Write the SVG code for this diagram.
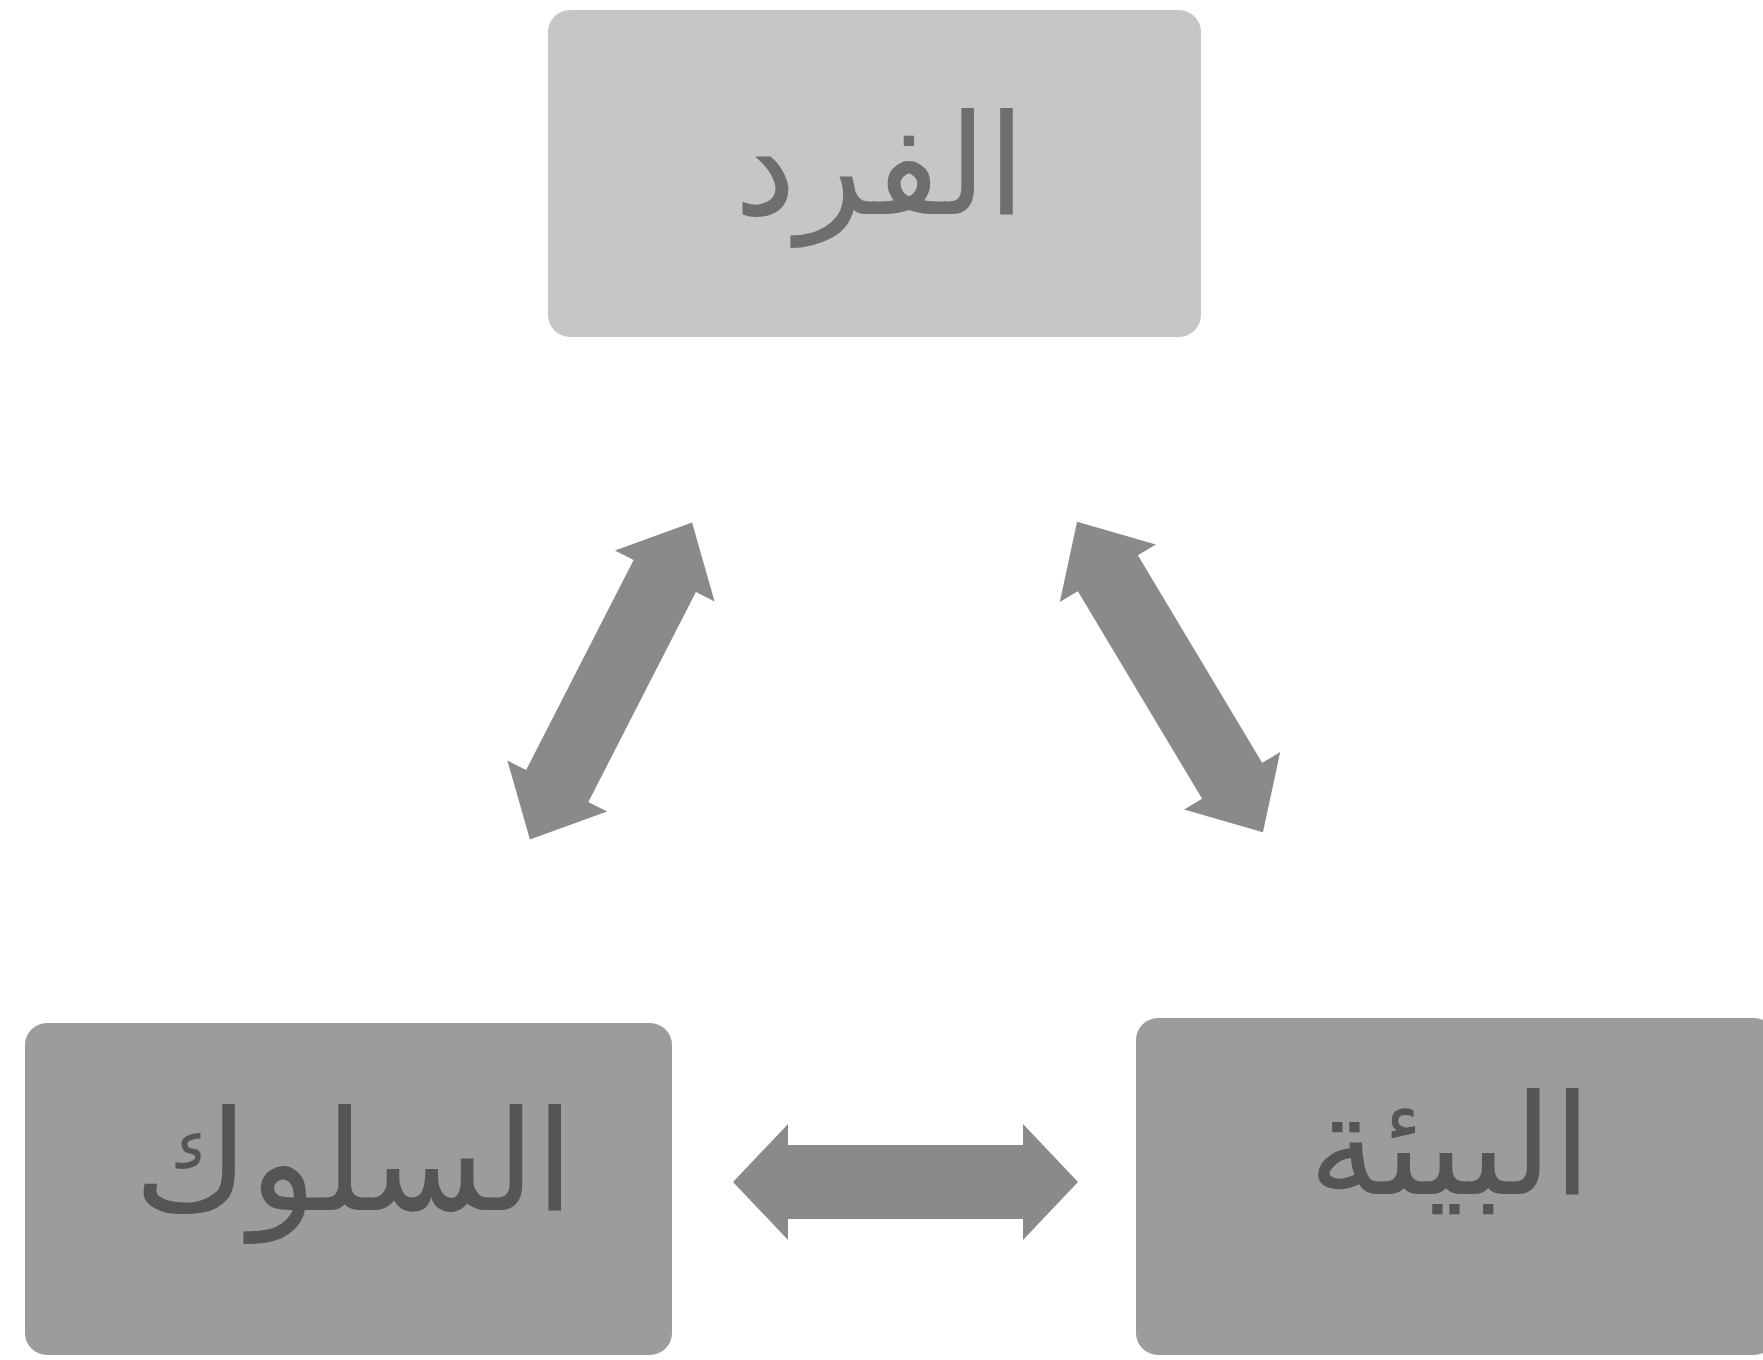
<svg xmlns="http://www.w3.org/2000/svg" width="1763" height="1360" viewBox="0 0 1763 1360">
<style>
.box{stroke:none}
.top{fill:#c6c6c6}
.bot{fill:#9c9c9c}
.lbl{font-family:"DejaVu Sans",sans-serif;font-size:140px;text-anchor:middle;direction:rtl}
.ltop{fill:#6e6e6e}
.lbot{fill:#555555}
.arr{fill:#8a8a8a}
</style>
<rect width="1763" height="1360" fill="#ffffff"/>
<g id="node-individual">
<rect class="box top" x="548" y="10" width="653" height="327" rx="22"/>
<text class="lbl ltop" x="880" y="214">الفرد</text>
</g>
<g id="node-behavior">
<rect class="box bot" x="25" y="1023" width="647" height="332" rx="22"/>
<text class="lbl lbot" x="354" y="1210">السلوك</text>
</g>
<g id="node-environment">
<rect class="box bot" x="1136" y="1018" width="640" height="337" rx="22"/>
<text class="lbl lbot" x="1450" y="1194">البيئة</text>
</g>
<g id="connectors">
<polygon class="arr" transform="translate(611,681) rotate(-62.9)" points="-178,0 -118,-56 -118,-35 118,-35 118,-56 178,0 118,56 118,35 -118,35 -118,56"/>
<polygon class="arr" transform="translate(1170,677) rotate(59.1)" points="-181,0 -121,-56 -121,-35 121,-35 121,-56 181,0 121,56 121,35 -121,35 -121,56"/>
<polygon class="arr" transform="translate(905.5,1182)" points="-172.5,0 -117.5,-58 -117.5,-37 117.5,-37 117.5,-58 172.5,0 117.5,58 117.5,37 -117.5,37 -117.5,58"/>
</g>
</svg>
